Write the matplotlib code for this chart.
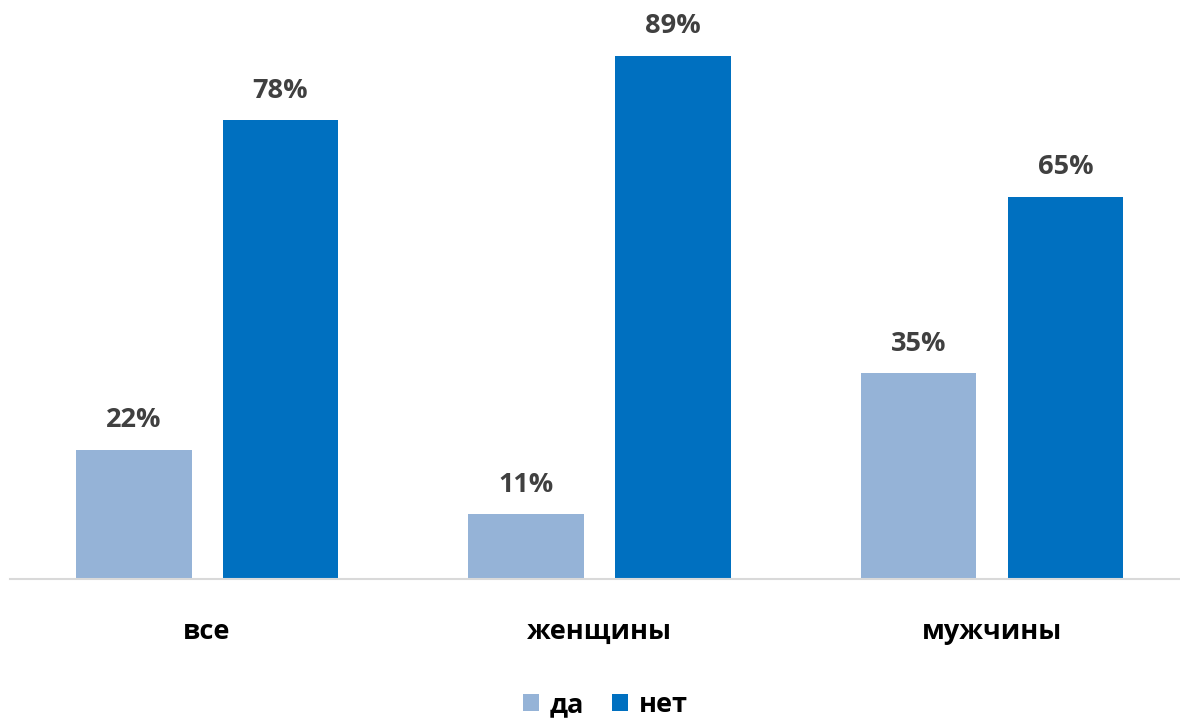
import matplotlib
matplotlib.use("Agg")
import matplotlib.pyplot as plt
import numpy as np

plt.rcParams['font.family'] = ['Open Sans', 'DejaVu Sans']

categories = ["все", "женщины", "мужчины"]
series_names = ["да", "нет"]
yes_values = [22, 11, 35]
no_values = [78, 89, 65]
colors = ["#95B3D7", "#0070C0"]

W, H = 1180, 719
fig = plt.figure(figsize=(W / 100, H / 100), dpi=100)
# axes box in pixels: left 10, right 1180, baseline at y=579 from top
ax = fig.add_axes([10 / W, (H - 579) / H, 1170 / W, 579 / H])

x = np.arange(len(categories))
width = 0.295
offset = 0.187

bars_yes = ax.bar(x - offset, yes_values, width, color=colors[0], label=series_names[0])
bars_no = ax.bar(x + offset, no_values, width, color=colors[1], label=series_names[1])

for bars, vals in ((bars_yes, yes_values), (bars_no, no_values)):
    for b, v in zip(bars, vals):
        ax.annotate(f"{v}%", (b.get_x() + b.get_width() / 2, v),
                    xytext=(0, 12), textcoords="offset points",
                    ha="center", va="bottom", fontsize=19.5, fontweight="bold",
                    color="#404040")

ax.set_xlim(-0.502, 2.479)
ax.set_ylim(0, 579 / 5.88)
ax.set_yticks([])
ax.set_xticks(x)
ax.set_xticklabels(categories, fontsize=19.5, fontweight="bold", color="#000000")
ax.tick_params(axis="x", length=0, pad=29)
for s in ("top", "right", "left"):
    ax.spines[s].set_visible(False)
ax.spines["bottom"].set_color("#D9D9D9")
ax.spines["bottom"].set_linewidth(1.5)

fig.legend(loc="center", bbox_to_anchor=(0.513, 1 - 705 / H), ncol=2, frameon=False,
           prop={"size": 19.5, "weight": "bold"}, handlelength=0.6, handleheight=0.6,
           handletextpad=0.4, columnspacing=1.0)

fig.savefig("out.png", dpi=100)
